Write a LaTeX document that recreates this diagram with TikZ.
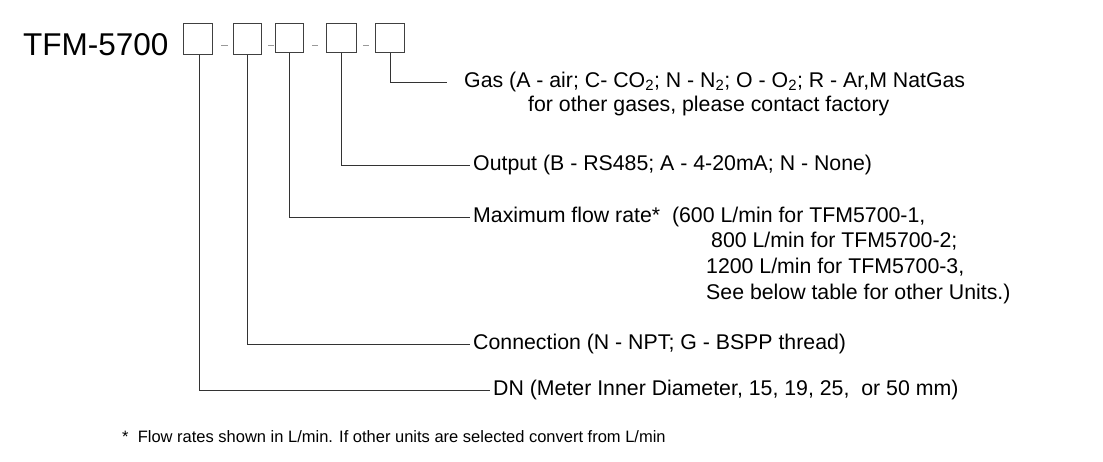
\documentclass[tikz,border=0pt]{standalone}
\usepackage{fontspec}
\setmainfont{Liberation Sans}
\newcommand{\sbt}[1]{\textsubscript{#1}}
\begin{document}
\begin{tikzpicture}[x=1pt,y=-1pt,
 box/.style={draw=black!75,line width=0.8pt,minimum width=29pt,minimum height=31pt,inner sep=0pt,anchor=north west},
 lbl/.style={anchor=west,inner sep=0pt,font=\fontsize{21.3}{25}\selectfont},
 sepdash/.style={draw=black!40,line width=1pt},
 lead/.style={draw=black!80,line width=0.8pt}]
\useasboundingbox (0,0) rectangle (1103,461);
\node[anchor=west,inner sep=0pt,font=\fontsize{31.5}{36}\selectfont] (t) at (23,45) {TFM-5700};
\node[box] (b1) at (183,23) {};
\node[box,minimum width=28pt] (b2) at (233,23) {};
\node[box,minimum width=28pt,minimum height=29pt] (b3) at (275,23) {};
\node[box,minimum width=30pt,minimum height=29pt] (b4) at (326,23) {};
\node[box,minimum height=29pt] (b5) at (375,23) {};
\draw[sepdash] (221,45) -- (228,45);
\draw[sepdash] (268,45) -- (274,45);
\draw[sepdash] (312,45) -- (318,45);
\draw[sepdash] (363,45) -- (369,45);
\node[lbl] (g) at (464,82) {Gas (A - air; C- CO\sbt{2}; N - N\sbt{2}; O - O\sbt{2}; R - Ar,M NatGas};
\node[lbl] (g2) at (528,106) {for other gases, please contact factory};
\node[lbl] (o) at (473,165) {Output (B - RS485; A - 4-20mA; N - None)};
\node[lbl] (m) at (473,217) {Maximum flow rate*\ \ (600 L/min for TFM5700-1,};
\node[lbl] (m2) at (711,241) {800 L/min for TFM5700-2;};
\node[lbl] (m3) at (706,267) {1200 L/min for TFM5700-3,};
\node[lbl] (m4) at (706,294) {See below table for other Units.)};
\node[lbl] (c) at (473,344) {Connection (N - NPT; G - BSPP thread)};
\node[lbl] (d) at (493,390) {DN (Meter Inner Diameter, 15, 19, 25, \ or 50 mm)};
\node[anchor=west,inner sep=0pt,font=\fontsize{16.5}{20}\selectfont] (f) at (122,437) {*\ \ Flow rates shown in L/min. If other units are selected convert from L/min};
\draw[lead] ([xshift=1pt]b1.south) |- ([xshift=-3pt]d.west);
\draw[lead] (b2.south) |- ([xshift=-3pt]c.west);
\draw[lead] (b3.south) |- ([xshift=-3pt]m.west);
\draw[lead] (b4.south) |- ([xshift=-3pt]o.west);
\draw[lead] (b5.south) |- ([xshift=-17pt]g.west);
\end{tikzpicture}
\end{document}
